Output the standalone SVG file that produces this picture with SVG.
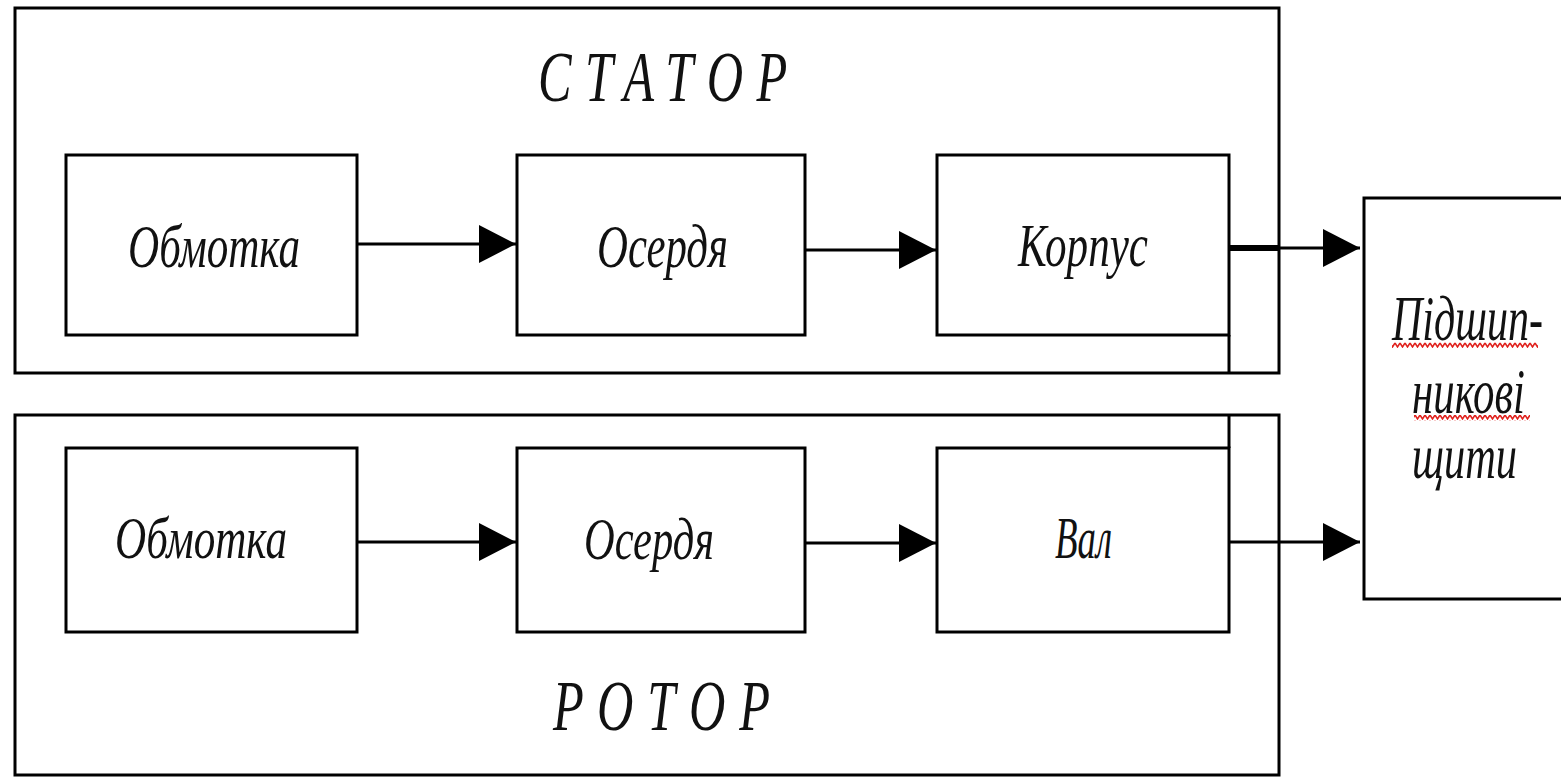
<svg xmlns="http://www.w3.org/2000/svg" width="1561" height="778" viewBox="0 0 1561 778">
  <style>
    .frame { fill: none; stroke: #000; stroke-width: 3; }
    .box { fill: #fff; stroke: #000; stroke-width: 3; }
    .wire { fill: none; stroke: #000; stroke-width: 3; }
    .lbl { font-family: "Liberation Serif", "Times New Roman", serif; font-style: italic; fill: #111; }
    .title { font-family: "Liberation Serif", "Times New Roman", serif; font-style: italic; fill: #111; font-size: 72px; }
  </style>
  <defs>
    <marker id="head" markerUnits="userSpaceOnUse" markerWidth="38" markerHeight="40" refX="37" refY="19" orient="auto">
      <path d="M0,0 L37,19 L0,38 Z" fill="#000"/>
    </marker>
    <pattern id="squiggle" width="5" height="6" patternUnits="userSpaceOnUse">
      <path d="M0,1 L2.5,5 L5,1" fill="none" stroke="#e0201c" stroke-width="1.5"/>
    </pattern>
  </defs>

  <rect width="1561" height="778" fill="#fff"/>

  <!-- stator enclosure -->
  <g id="stator">
    <rect class="frame" x="15" y="8" width="1264" height="365"/>
    <text class="title" transform="scale(0.7,1)" x="768.6" y="101" textLength="356" lengthAdjust="spacing">СТАТОР</text>
  </g>

  <!-- rotor enclosure -->
  <g id="rotor">
    <rect class="frame" x="15" y="415" width="1264" height="360"/>
    <text class="title" transform="scale(0.7,1)" x="790" y="730" textLength="310" lengthAdjust="spacing">РОТОР</text>
  </g>

  <g id="stator-winding">
    <rect class="box" x="66" y="155" width="291" height="180"/>
    <text class="lbl" x="128" y="267" font-size="62" textLength="172" lengthAdjust="spacingAndGlyphs">Обмотка</text>
  </g>
  <g id="stator-core">
    <rect class="box" x="517" y="155" width="288" height="180"/>
    <text class="lbl" x="597" y="267" font-size="62" textLength="131" lengthAdjust="spacingAndGlyphs">Осердя</text>
  </g>
  <g id="housing">
    <rect class="box" x="937" y="155" width="292" height="180"/>
    <text class="lbl" x="1018" y="266" font-size="62" textLength="130" lengthAdjust="spacingAndGlyphs">Корпус</text>
  </g>

  <g id="rotor-winding">
    <rect class="box" x="66" y="448" width="291" height="184"/>
    <text class="lbl" x="115" y="558" font-size="60" textLength="172" lengthAdjust="spacingAndGlyphs">Обмотка</text>
  </g>
  <g id="rotor-core">
    <rect class="box" x="517" y="448" width="288" height="184"/>
    <text class="lbl" x="584" y="559" font-size="60" textLength="130" lengthAdjust="spacingAndGlyphs">Осердя</text>
  </g>
  <g id="shaft">
    <rect class="box" x="937" y="448" width="292" height="184"/>
    <text class="lbl" x="1055" y="558" font-size="60" textLength="57" lengthAdjust="spacingAndGlyphs">Вал</text>
  </g>

  <!-- bearing shields block; its right side runs past the page edge -->
  <g id="end-shields">
    <rect x="1364" y="198" width="197" height="401" fill="#fff"/>
    <path class="wire" d="M1561,198 H1364 V599 H1561"/>
    <!-- labels drawn in a tall, narrow face -->
    <text class="lbl" transform="translate(1392,340) scale(1,1.45)" x="0" y="0" font-size="43" textLength="151" lengthAdjust="spacingAndGlyphs">Підшип-</text>
    <text class="lbl" transform="translate(1412,413) scale(1,1.45)" x="0" y="0" font-size="43" textLength="113" lengthAdjust="spacingAndGlyphs">никові</text>
    <text class="lbl" transform="translate(1412,478) scale(1,1.45)" x="0" y="0" font-size="43" textLength="105" lengthAdjust="spacingAndGlyphs">щити</text>
    <rect x="1392" y="342" width="146" height="6" fill="url(#squiggle)"/>
    <rect x="1414" y="415" width="116" height="6" fill="url(#squiggle)"/>
  </g>

  <g id="connectors">
    <!-- housing and shaft side lines running to the enclosure edges -->
    <line class="wire" x1="1229" y1="335" x2="1229" y2="373"/>
    <line class="wire" x1="1229" y1="415" x2="1229" y2="448"/>
    <!-- stator chain -->
    <line class="wire" x1="357" y1="244" x2="516" y2="244" marker-end="url(#head)"/>
    <line class="wire" x1="805" y1="250" x2="936" y2="250" marker-end="url(#head)"/>
    <line x1="1229" y1="248" x2="1279" y2="248" stroke="#000" stroke-width="6"/>
    <line class="wire" x1="1279" y1="248" x2="1360" y2="248" marker-end="url(#head)"/>
    <!-- rotor chain -->
    <line class="wire" x1="357" y1="542" x2="516" y2="542" marker-end="url(#head)"/>
    <line class="wire" x1="805" y1="543" x2="936" y2="543" marker-end="url(#head)"/>
    <line class="wire" x1="1229" y1="542" x2="1360" y2="542" marker-end="url(#head)"/>
  </g>
</svg>
